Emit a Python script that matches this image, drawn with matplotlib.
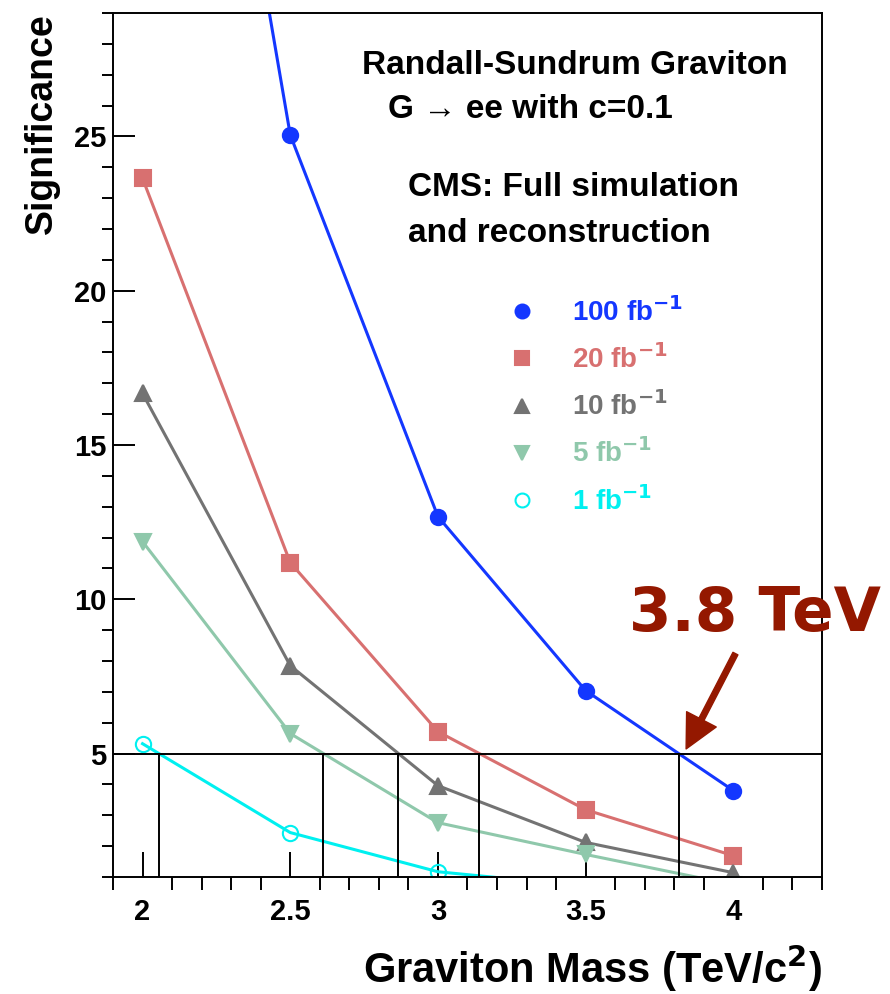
import numpy as np
import matplotlib
matplotlib.use("Agg")
import matplotlib.pyplot as plt
from matplotlib.lines import Line2D

plt.rcParams['font.family'] = ['Liberation Sans', 'DejaVu Sans']
plt.rcParams['font.weight'] = 'bold'

# dati
masse = [2.0, 2.5, 3.0, 3.5, 4.0]
sig_100 = [53.0, 25.05, 12.68, 7.04, 3.8]
sig_20 = [23.64, 11.19, 5.71, 3.18, 1.69]
sig_10 = [16.67, 7.85, 3.96, 2.12, 1.14]
sig_5 = [11.87, 5.65, 2.76, 1.73, 0.75]
sig_1 = [5.32, 2.44, 1.17, 0.7, 0.3]

etichette = ["100 fb$^{\\mathbf{-1}}$", "20 fb$^{\\mathbf{-1}}$", "10 fb$^{\\mathbf{-1}}$",
             "5 fb$^{\\mathbf{-1}}$", "1 fb$^{\\mathbf{-1}}$"]
colori = ["#1437ff", "#d87070", "#737373", "#8fc8ab", "#00f0f0"]
marker = ["o", "s", "^", "v", "o"]
serie = [sig_100, sig_20, sig_10, sig_5, sig_1]

soglia = 5

fig = plt.figure(figsize=(8.9, 9.94), dpi=100)
W, H = 890, 994
ax = fig.add_axes([113 / W, 1 - 877 / H, (822 - 113) / W, (877 - 13) / H])

handles = []
for s, c, m, lab in zip(serie, colori, marker, etichette):
    fc = "none" if lab.startswith("1 ") else c
    ax.plot(masse, s, color=c, lw=2.2, marker=m, ms=11, mfc=fc, mec=c, mew=1.5)
    handles.append(Line2D([], [], ls="none", marker=m, color=c, mfc=fc, mec=c, ms=10, mew=1.5))

# linea a 5 sigma e incroci
ax.axhline(soglia, color="black", lw=1.4)
for s in serie:
    s = np.array(s)
    i = np.where(s < soglia)[0][0]
    x0, x1 = masse[i - 1], masse[i]
    y0, y1 = s[i - 1], s[i]
    xc = x0 + (y0 - soglia) / (y0 - y1) * (x1 - x0)
    ax.plot([xc, xc], [0, soglia], color="black", lw=1.4)

ax.set_xlim(1.9, 4.3)
ax.set_ylim(1, 29)
ax.set_xticks([2, 2.5, 3, 3.5, 4])
ax.set_xticklabels(["2", "2.5", "3", "3.5", "4"])
ax.set_xticks(np.arange(1.9, 4.31, 0.1), minor=True)
ax.set_yticks([5, 10, 15, 20, 25])
ax.set_yticks(np.arange(1, 29.1, 1), minor=True)
ax.tick_params(direction="in", labelsize=21, width=1.4)
ax.tick_params(axis="x", which="major", length=18, pad=15)
ax.tick_params(axis="x", which="minor", length=9, width=1.4)
ax.tick_params(axis="y", which="major", length=16, pad=5)
ax.tick_params(axis="y", which="minor", length=8, width=1.4)
for sp in ax.spines.values():
    sp.set_linewidth(1.4)

ax.set_ylabel("Significance", fontsize=27, fontweight="bold", loc="top", labelpad=10)
ax.set_xlabel("Graviton Mass (TeV/c$^{\\mathbf{2}}$)", fontsize=30, fontweight="bold",
              loc="right", labelpad=12)

leg = ax.legend(handles, etichette, loc="upper left", bbox_to_anchor=(0.522, 0.70),
                frameon=False, handlelength=1.0, handletextpad=1.3, labelspacing=0.62,
                prop={"size": 20, "weight": "bold"}, labelcolor=colori)

fig.text(575 / W, 1 - 65 / H, "Randall-Sundrum Graviton", ha="center", va="center", fontsize=24)
fig.text(388 / W, 1 - 110 / H, "G \u2192 ee with c=0.1", ha="left", va="center", fontsize=24)
fig.text(408 / W, 1 - 187 / H, "CMS: Full simulation", ha="left", va="center", fontsize=24)
fig.text(408 / W, 1 - 233 / H, "and reconstruction", ha="left", va="center", fontsize=24)

# annotazione 3.8 TeV
ax.annotate("", xy=(3.84, 5.15), xytext=(4.007, 8.24),
            arrowprops=dict(facecolor="#941800", edgecolor="#941800", width=4, headwidth=24, headlength=24))
ax.text(4.074, 9.5, "3.8 TeV", color="#941800", fontsize=44, ha="center", va="center",
        family="DejaVu Sans", clip_on=False)

fig.savefig("out.png", dpi=100)
